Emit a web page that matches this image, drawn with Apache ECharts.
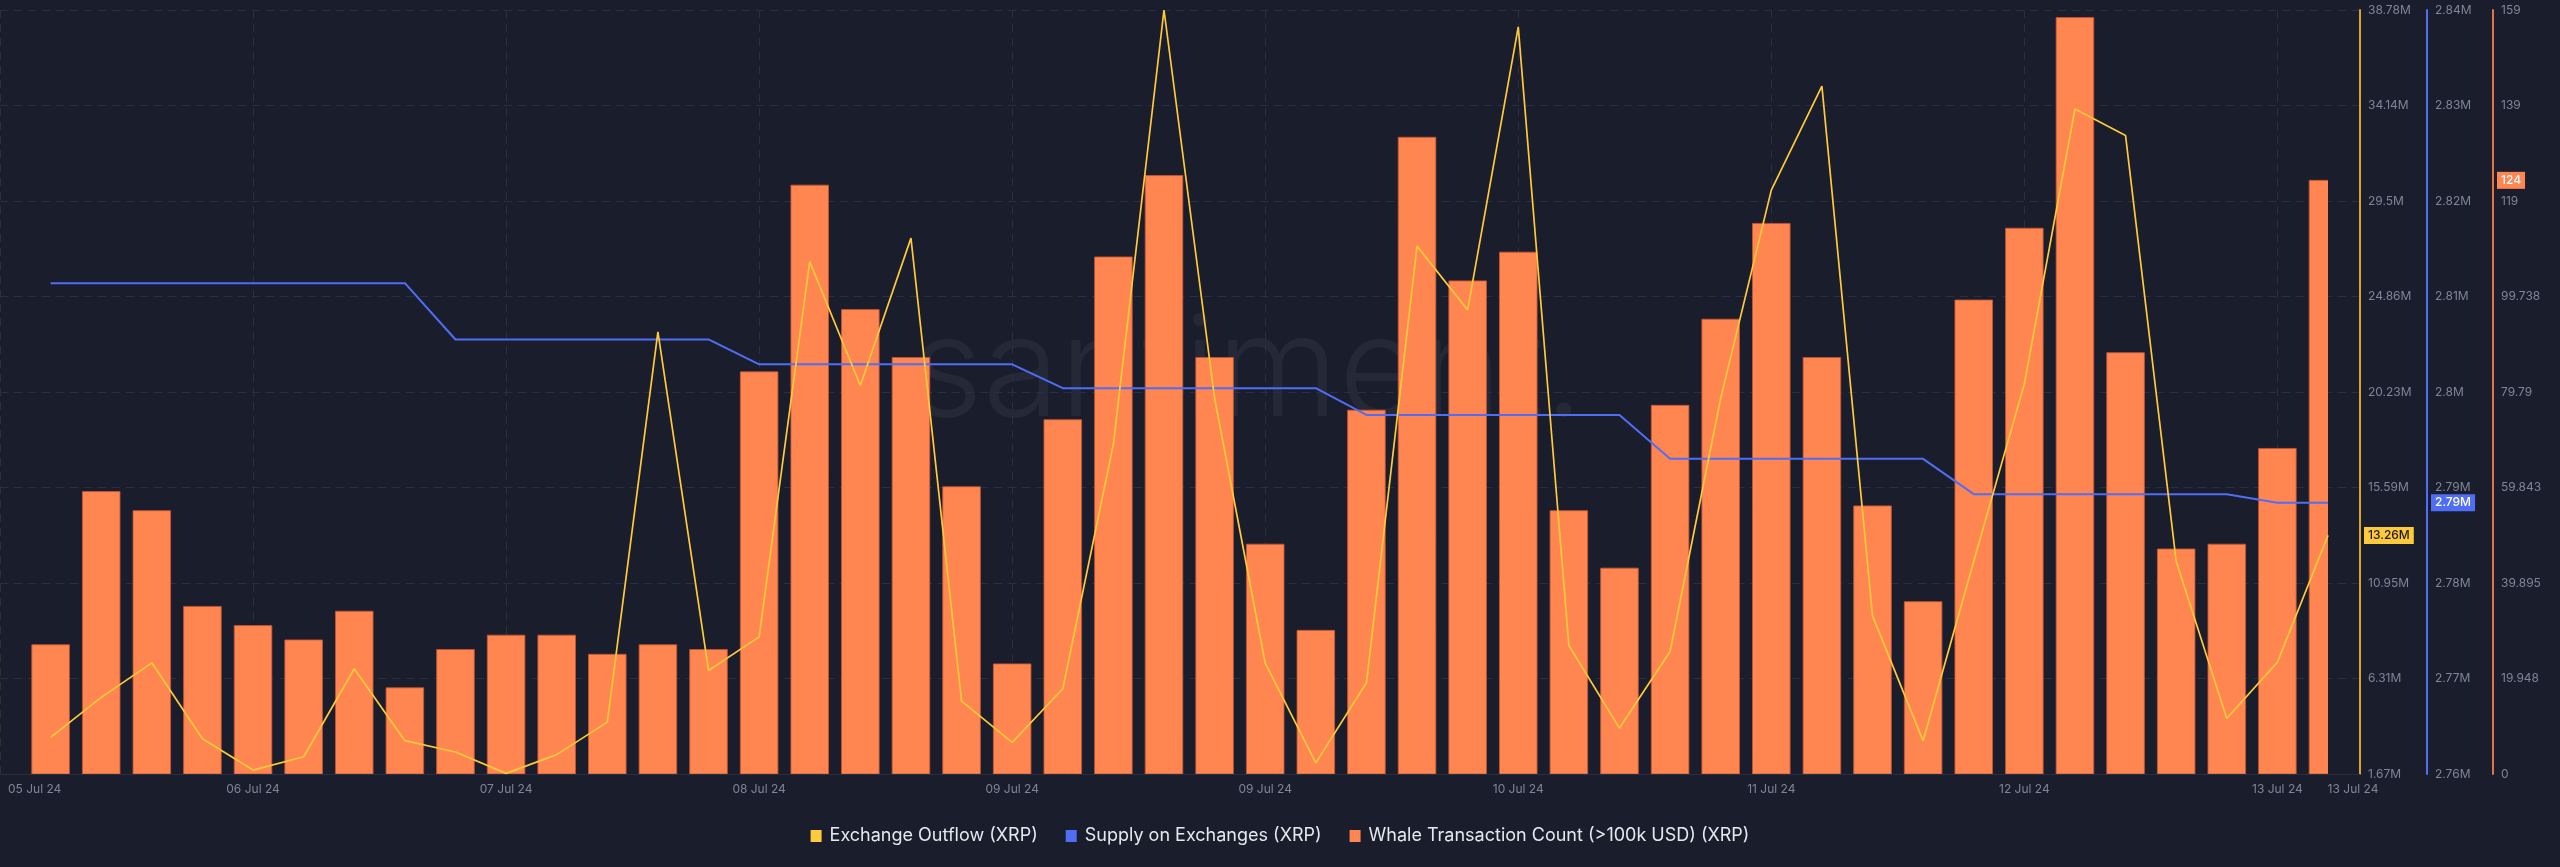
<!DOCTYPE html>
<html>
<head>
<meta charset="utf-8">
<script src="https://cdn.jsdelivr.net/npm/echarts@6/dist/echarts.min.js"></script>
<style>
html,body{margin:0;padding:0;background:#1a1d2c;}
#c{width:2560px;height:867px;}
</style>
</head>
<body>
<div id="c"></div>
<script>
// ---- data ----
const axisStartLabel = '05 Jul 24';
const categories = [
  '05 Jul 24','05 Jul 24',
  '06 Jul 24','06 Jul 24','06 Jul 24','06 Jul 24','06 Jul 24','06 Jul 24',
  '07 Jul 24','07 Jul 24','07 Jul 24','07 Jul 24','07 Jul 24','07 Jul 24',
  '08 Jul 24','08 Jul 24','08 Jul 24','08 Jul 24','08 Jul 24',
  '09 Jul 24','09 Jul 24','09 Jul 24','09 Jul 24','09 Jul 24','09 Jul 24',
  '10 Jul 24','10 Jul 24','10 Jul 24','10 Jul 24','10 Jul 24','10 Jul 24',
  '11 Jul 24','11 Jul 24','11 Jul 24','11 Jul 24','11 Jul 24',
  '12 Jul 24','12 Jul 24','12 Jul 24','12 Jul 24','12 Jul 24','12 Jul 24',
  '13 Jul 24','13 Jul 24','13 Jul 24','13 Jul 24'
];
// Exchange Outflow (XRP), millions
const exchangeOutflow = [
  3.45, 5.39, 7.07, 3.38, 1.86, 2.51, 6.78, 3.29, 2.74, 1.70,
  2.61, 4.19, 23.15, 6.70, 8.33, 26.56, 20.54, 27.70, 5.21, 3.21,
  5.81, 17.69, 38.78, 19.92, 7.05, 2.21, 6.10, 27.31, 24.21, 37.96,
  7.91, 3.90, 7.62, 19.92, 30.03, 35.08, 9.35, 3.28, 12.00, 20.62,
  33.97, 32.68, 12.00, 4.37, 7.10, 13.26
];
// Supply on Exchanges (XRP), millions
const supplyOnExchanges = [
  2.8114, 2.8114, 2.8114, 2.8114, 2.8114, 2.8114, 2.8114, 2.8114,
  2.8055, 2.8055, 2.8055, 2.8055, 2.8055, 2.8055,
  2.8029, 2.8029, 2.8029, 2.8029, 2.8029, 2.8029,
  2.8004, 2.8004, 2.8004, 2.8004, 2.8004, 2.8004,
  2.7976, 2.7976, 2.7976, 2.7976, 2.7976, 2.7976,
  2.7930, 2.7930, 2.7930, 2.7930, 2.7930, 2.7930,
  2.7893, 2.7893, 2.7893, 2.7893, 2.7893, 2.7893,
  2.7884, 2.7884
];
// Whale Transaction Count (>100k USD) (XRP)
const whaleTxCount = [
  27, 59, 55, 35, 31, 28, 34, 18, 26, 29,
  29, 25, 27, 26, 84, 123, 97, 87, 60, 23,
  74, 108, 125, 87, 48, 30, 76, 133, 103, 109,
  55, 43, 77, 95, 115, 87, 56, 36, 99, 114,
  158, 88, 47, 48, 68, 124
];
const outflowTicks = ['1.67M','6.31M','10.95M','15.59M','20.23M','24.86M','29.5M','34.14M','38.78M'];
const supplyTicks  = ['2.76M','2.77M','2.78M','2.79M','2.8M','2.81M','2.82M','2.83M','2.84M'];
const whaleTicks   = ['0','19.948','39.895','59.843','79.79','99.738','119','139','159'];
const seriesNames = ['Exchange Outflow (XRP)','Supply on Exchanges (XRP)','Whale Transaction Count (>100k USD) (XRP)'];

// ---- styles ----
const BG = '#1a1d2c';
const C_Y = '#ffc93c', C_B = '#4f6ef5', C_O = '#ff8650';
const GRID_C = '#2a2e41';
const LBL = '#7f8598';
const FONT = 'Inter';
const BAR_W = 37.6;

const outflowRange = [1.67, 38.78];
const supplyRange = [2.76, 2.84];
const whaleRange = [0, 159.58];

function tickFmt(ticks, range){
  const step = (range[1]-range[0])/(ticks.length-1);
  return v => { const k = Math.round((v-range[0])/step); return ticks[k] !== undefined ? ticks[k] : ''; };
}
const labelInterval = (i) => i % 5 === 0 && i < categories.length;

const chart = echarts.init(document.getElementById('c'), null, {renderer:'canvas'});
const option = {
  backgroundColor: BG,
  animation: false,
  textStyle: {fontFamily: FONT},
  grid: [
    {left: 0, top: 10, width: 2328, bottom: 93, containLabel:false, outerBoundsMode:'none'},
    {left: 0, top: 10, width: 2360, bottom: 93, containLabel:false, outerBoundsMode:'none'}
  ],
  legend: {
    data: seriesNames,
    left: 'center', top: 822,
    icon: 'rect', itemWidth: 11, itemHeight: 12, itemGap: 28,
    textStyle: {color: '#e6e8ef', fontSize: 18, fontFamily: FONT, padding:[0,0,0,3]},
    selectedMode: false
  },
  xAxis: [
    {
      type: 'category', gridIndex: 0, boundaryGap: false,
      data: [axisStartLabel].concat(categories),
      axisLine: {show:false}, axisTick: {show:false},
      axisLabel: {
        interval: labelInterval, color: LBL, fontSize: 12, fontFamily: FONT, margin: 9,
        alignMinLabel: 'left',
        formatter: (v, i) => i === 0 ? '{a|' + v + '}' : v,
        rich: {a: {color: LBL, fontSize: 12, fontFamily: FONT, padding:[0,0,0,8]}}
      },
      splitLine: {show:true, interval: labelInterval, lineStyle:{color: GRID_C, type:[8,6], width:1}}
    },
    {
      type: 'value', gridIndex: 1, min: 0, max: 1, interval: 1,
      axisLine: {show:true, lineStyle:{color: GRID_C, width:1}},
      axisTick: {show:false}, splitLine: {show:false},
      axisLabel: {
        color: LBL, fontSize: 12, fontFamily: FONT, margin: 9, padding:[0,14,0,0],
        formatter: v => v === 1 ? categories[categories.length-1] : ''
      }
    }
  ],
  yAxis: [
    {
      type:'value', gridIndex:0, position:'right', offset:32,
      min: outflowRange[0], max: outflowRange[1], interval: (outflowRange[1]-outflowRange[0])/8,
      axisLine:{show:true, lineStyle:{color:'#dba52c', width:2}}, axisTick:{show:false}, splitLine:{show:false},
      axisLabel:{color: LBL, fontSize:12, fontFamily: FONT, margin:8, formatter: tickFmt(outflowTicks, outflowRange)}
    },
    {
      type:'value', gridIndex:0, position:'right', offset:99,
      min: supplyRange[0], max: supplyRange[1], interval: 0.01,
      axisLine:{show:true, lineStyle:{color:C_B, width:2}}, axisTick:{show:false}, splitLine:{show:false},
      axisLabel:{color: LBL, fontSize:12, fontFamily: FONT, margin:8, formatter: tickFmt(supplyTicks, supplyRange)}
    },
    {
      type:'value', gridIndex:0, position:'right', offset:165,
      min: whaleRange[0], max: whaleRange[1], interval: (whaleRange[1]-whaleRange[0])/8,
      axisLine:{show:true, lineStyle:{color:'#e5734a', width:2}}, axisTick:{show:false}, splitLine:{show:false},
      axisLabel:{color: LBL, fontSize:12, fontFamily: FONT, margin:8, formatter: tickFmt(whaleTicks, whaleRange)}
    },
    {
      type:'value', gridIndex:1, min:0, max:8, interval:1,
      axisLine:{show:false}, axisTick:{show:false}, axisLabel:{show:false},
      splitLine:{show:true, lineStyle:{color: GRID_C, type:[8,6], width:1}}
    }
  ],
  series: [
    {
      name: seriesNames[0], type:'line', xAxisIndex:0, yAxisIndex:0,
      data: ['-'].concat(exchangeOutflow),
      showSymbol:false, symbol:'none', z:4, clip:true,
      itemStyle:{color:C_Y}, lineStyle:{color:C_Y, width:1.7}
    },
    {
      name: seriesNames[1], type:'line', xAxisIndex:0, yAxisIndex:1,
      data: ['-'].concat(supplyOnExchanges),
      showSymbol:false, symbol:'none', z:3, clip:true,
      itemStyle:{color:C_B}, lineStyle:{color:C_B, width:2}
    },
    {
      // bars drawn through the axes' scales; custom series so the last bar is clipped exactly at the grid edge
      name: seriesNames[2], type:'custom', xAxisIndex:0, yAxisIndex:2,
      data: whaleTxCount.map((v, i) => [i + 1, v]),
      encode: {x: 0, y: 1},
      clip: true, z:2,
      itemStyle:{color:C_O},
      renderItem: function(params, api){
        const top = api.coord([api.value(0), api.value(1)]);
        const base = api.coord([api.value(0), 0]);
        return {
          type:'rect',
          shape:{x: top[0] - BAR_W/2, y: top[1], width: BAR_W, height: base[1] - top[1]},
          style:{fill: C_O, stroke:'rgba(196,86,50,0.85)', lineWidth:1}
        };
      }
    }
  ],
  graphic: [
    {type:'text', z:-1, silent:true, x:1247, y:374,
     style:{text:'santiment.', fill:'rgba(255,255,255,0.05)', font:'300 140px Inter', align:'center', verticalAlign:'middle'}}
  ]
};
chart.setOption(option);

// value tags on the right axes, positioned through the axes' scales
const lastO = exchangeOutflow[exchangeOutflow.length-1];
const lastS = supplyOnExchanges[supplyOnExchanges.length-1];
const lastW = whaleTxCount[whaleTxCount.length-1];
const yO = chart.convertToPixel({yAxisIndex:0}, lastO);
const yS = chart.convertToPixel({yAxisIndex:1}, lastS);
const yW = chart.convertToPixel({yAxisIndex:2}, lastW);
function tag(x, y, text, bg, fg){
  return {type:'text', z:100, silent:true, x:x, y:y,
    style:{text:text, fill:fg, backgroundColor:bg, padding:[3,4,2,4], font:'500 12px Inter', align:'left', verticalAlign:'middle'}};
}
chart.setOption({graphic: option.graphic.concat([
  tag(2364, yO, lastO.toFixed(2) + 'M', C_Y, '#1a1d2c'),
  tag(2431, yS, lastS.toFixed(2) + 'M', C_B, '#ffffff'),
  tag(2497, yW, String(lastW), C_O, '#ffffff')
])});
</script>
</body>
</html>
